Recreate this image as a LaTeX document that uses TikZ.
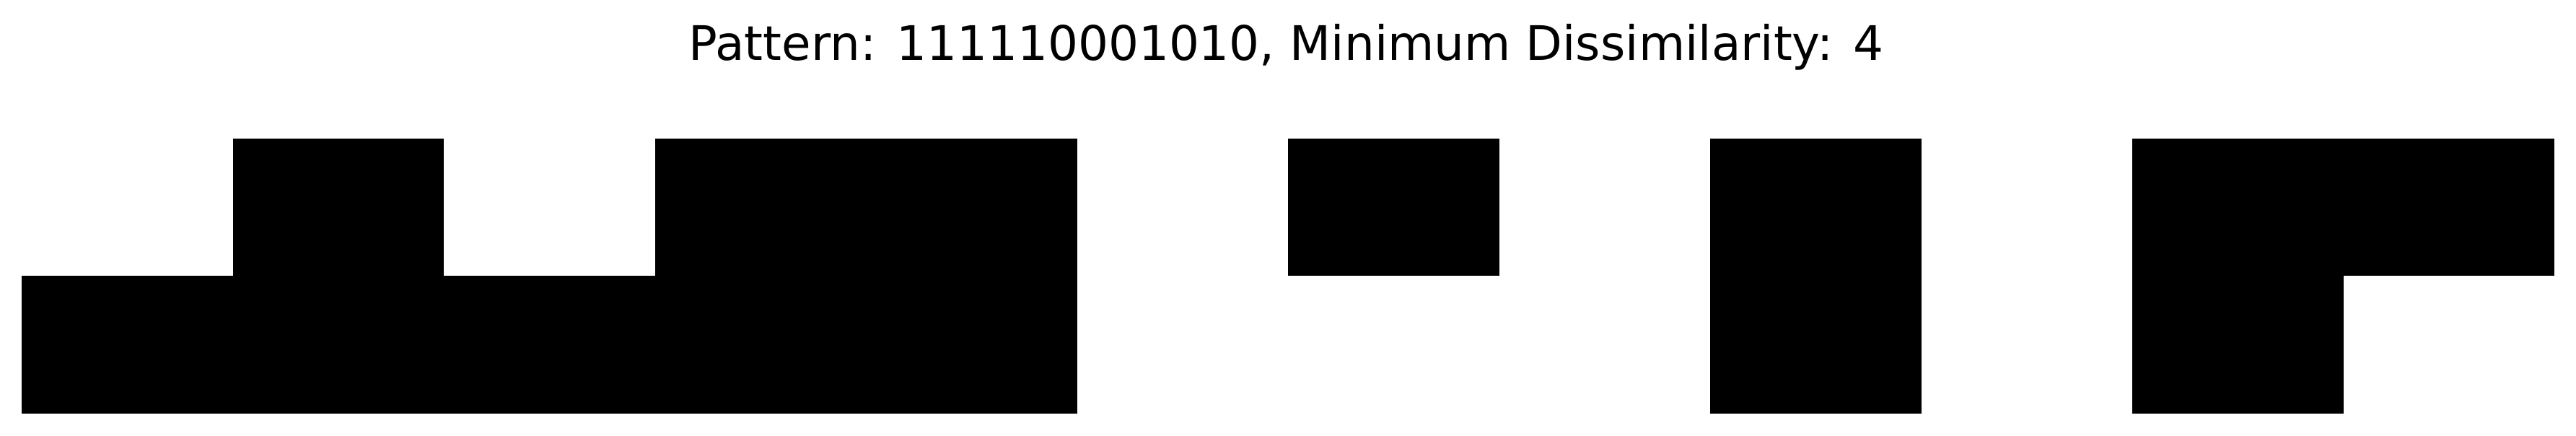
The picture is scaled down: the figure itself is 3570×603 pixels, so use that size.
\documentclass[tikz,border=0pt]{standalone}
\usepackage{fontspec}
\setmainfont{DejaVu Sans}
\begin{document}
\begin{tikzpicture}[x=0.25pt,y=-0.25pt,
  cell/.style={fill=black,draw=none}]
\useasboundingbox (0,0) rectangle (3570,603);
\node[anchor=base,inner sep=0pt,font=\fontsize{16.5}{20}\selectfont] (title) at (1782.5,83) {Pattern: 111110001010, Minimum Dissimilarity: 4};
% top row
\foreach \i in {1,3,4,6,8,10,11} {
  \fill[cell] ({30+292.5*\i},192) rectangle ({30+292.5*(\i+1)},382);
}
% bottom row
\foreach \i in {0,1,2,3,4,8,10} {
  \fill[cell] ({30+292.5*\i},382) rectangle ({30+292.5*(\i+1)},573);
}
\end{tikzpicture}
\end{document}
